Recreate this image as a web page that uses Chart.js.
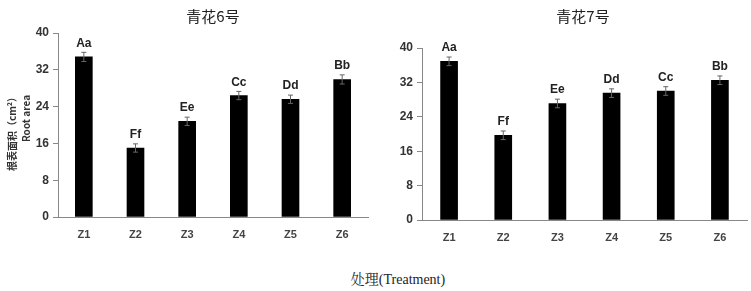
<!DOCTYPE html>
<html>
<head>
<meta charset="utf-8">
<script src="https://cdn.jsdelivr.net/npm/chart.js@4.4.0/dist/chart.umd.min.js"></script>
<style>
  body { margin: 0; background: #fff; width: 751px; height: 291px; position: relative; overflow: hidden; }
  canvas { position: absolute; top: 0; }
  .title { position: absolute; top: 5px; font: 15px "Noto Sans CJK SC", sans-serif; color: #222; transform: translateX(-50%); white-space: nowrap; }
  .ylab { position: absolute; font: bold 10px "Noto Sans CJK SC", sans-serif; color: #333; white-space: nowrap; transform-origin: center center; }
  .xlab { position: absolute; top: 268px; left: 398px; transform: translateX(-50%); font: 14px "Liberation Serif", "Noto Serif CJK SC", serif; color: #222; white-space: nowrap; }
</style>
</head>
<body>
<canvas id="left" width="375" height="250" style="left:0"></canvas>
<canvas id="right" width="375" height="250" style="left:376px"></canvas>
<div class="title" style="left:213px">青花6号</div>
<div class="title" style="left:583px">青花7号</div>
<div class="ylab" id="yl1">根表面积（cm²）</div>
<div class="ylab" id="yl2">Root area</div>
<div class="xlab">处理(Treatment)</div>
<script>
// data
const categories = ['Z1', 'Z2', 'Z3', 'Z4', 'Z5', 'Z6'];
const values6 = [34.8, 15.0, 20.8, 26.4, 25.6, 29.9];
const errors6 = [1.0, 0.9, 0.9, 0.9, 0.9, 1.0];
const letters6 = ['Aa', 'Ff', 'Ee', 'Cc', 'Dd', 'Bb'];
const values7 = [36.9, 19.7, 27.1, 29.5, 30.0, 32.5];
const errors7 = [1.0, 1.0, 1.0, 1.0, 1.0, 1.0];
const letters7 = ['Aa', 'Ff', 'Ee', 'Dd', 'Cc', 'Bb'];
const yTicks = [0, 8, 16, 24, 32, 40];

// error bars + significance letters
const errorBarPlugin = {
  id: 'errorBars',
  afterDatasetsDraw(chart) {
    const { ctx, scales: { x, y } } = chart;
    const opts = chart.options.plugins.errorBars;
    ctx.save();
    opts.values.forEach((v, i) => {
      const cx = x.getPixelForValue(i);
      const top = y.getPixelForValue(v + opts.errors[i]);
      const bot = y.getPixelForValue(v - opts.errors[i]);
      ctx.strokeStyle = '#666';
      ctx.lineWidth = 1;
      ctx.beginPath();
      ctx.moveTo(cx, top); ctx.lineTo(cx, bot);
      ctx.moveTo(cx - 2.5, top); ctx.lineTo(cx + 2.5, top);
      ctx.moveTo(cx - 2.5, bot); ctx.lineTo(cx + 2.5, bot);
      ctx.stroke();
      ctx.fillStyle = '#222';
      ctx.font = 'bold 12px "Liberation Sans", sans-serif';
      ctx.textAlign = 'center';
      ctx.textBaseline = 'bottom';
      ctx.fillText(opts.letters[i], cx, top - 3);
    });
    ctx.restore();
  }
};

function makeChart(id, values, errors, letters, axisWidth, xHeight, pad) {
  return new Chart(document.getElementById(id), {
    type: 'bar',
    data: {
      labels: categories,
      datasets: [{ data: values, backgroundColor: '#000', borderWidth: 0, barThickness: 17 }]
    },
    options: {
      responsive: false,
      animation: false,
      layout: { padding: pad },
      plugins: {
        legend: { display: false },
        tooltip: { enabled: false },
        errorBars: { values, errors, letters }
      },
      scales: {
        x: {
          grid: { display: false },
          border: { display: true, color: '#888', width: 1 },
          ticks: { color: '#444', font: { family: 'Liberation Sans', size: 11, weight: 'bold' }, padding: 3 },
          afterFit(scale) { scale.height = xHeight; }
        },
        y: {
          min: 0, max: 40,
          afterBuildTicks(scale) { scale.ticks = yTicks.map(v => ({ value: v })); },
          grid: { drawOnChartArea: false, drawTicks: true, tickLength: 5, color: '#888' },
          border: { display: true, color: '#888', width: 1 },
          ticks: { color: '#333', font: { family: 'Liberation Sans', size: 12, weight: 'bold' }, padding: 4 },
          afterFit(scale) { scale.width = axisWidth; }
        }
      }
    },
    plugins: [errorBarPlugin]
  });
}

makeChart('left', values6, errors6, letters6, 58, 33, { top: 33, right: 7, left: 0, bottom: 0 });
makeChart('right', values7, errors7, letters7, 46, 30, { top: 48, right: 4, left: 0, bottom: 0 });

// rotated y-axis title, two lines
function placeRotated(el, cx, cy) {
  const w = el.offsetWidth, h = el.offsetHeight;
  el.style.left = (cx - w / 2) + 'px';
  el.style.top = (cy - h / 2) + 'px';
  el.style.transform = 'rotate(-90deg)';
}
placeRotated(document.getElementById('yl1'), 11, 131);
placeRotated(document.getElementById('yl2'), 25, 118);
</script>
</body>
</html>
